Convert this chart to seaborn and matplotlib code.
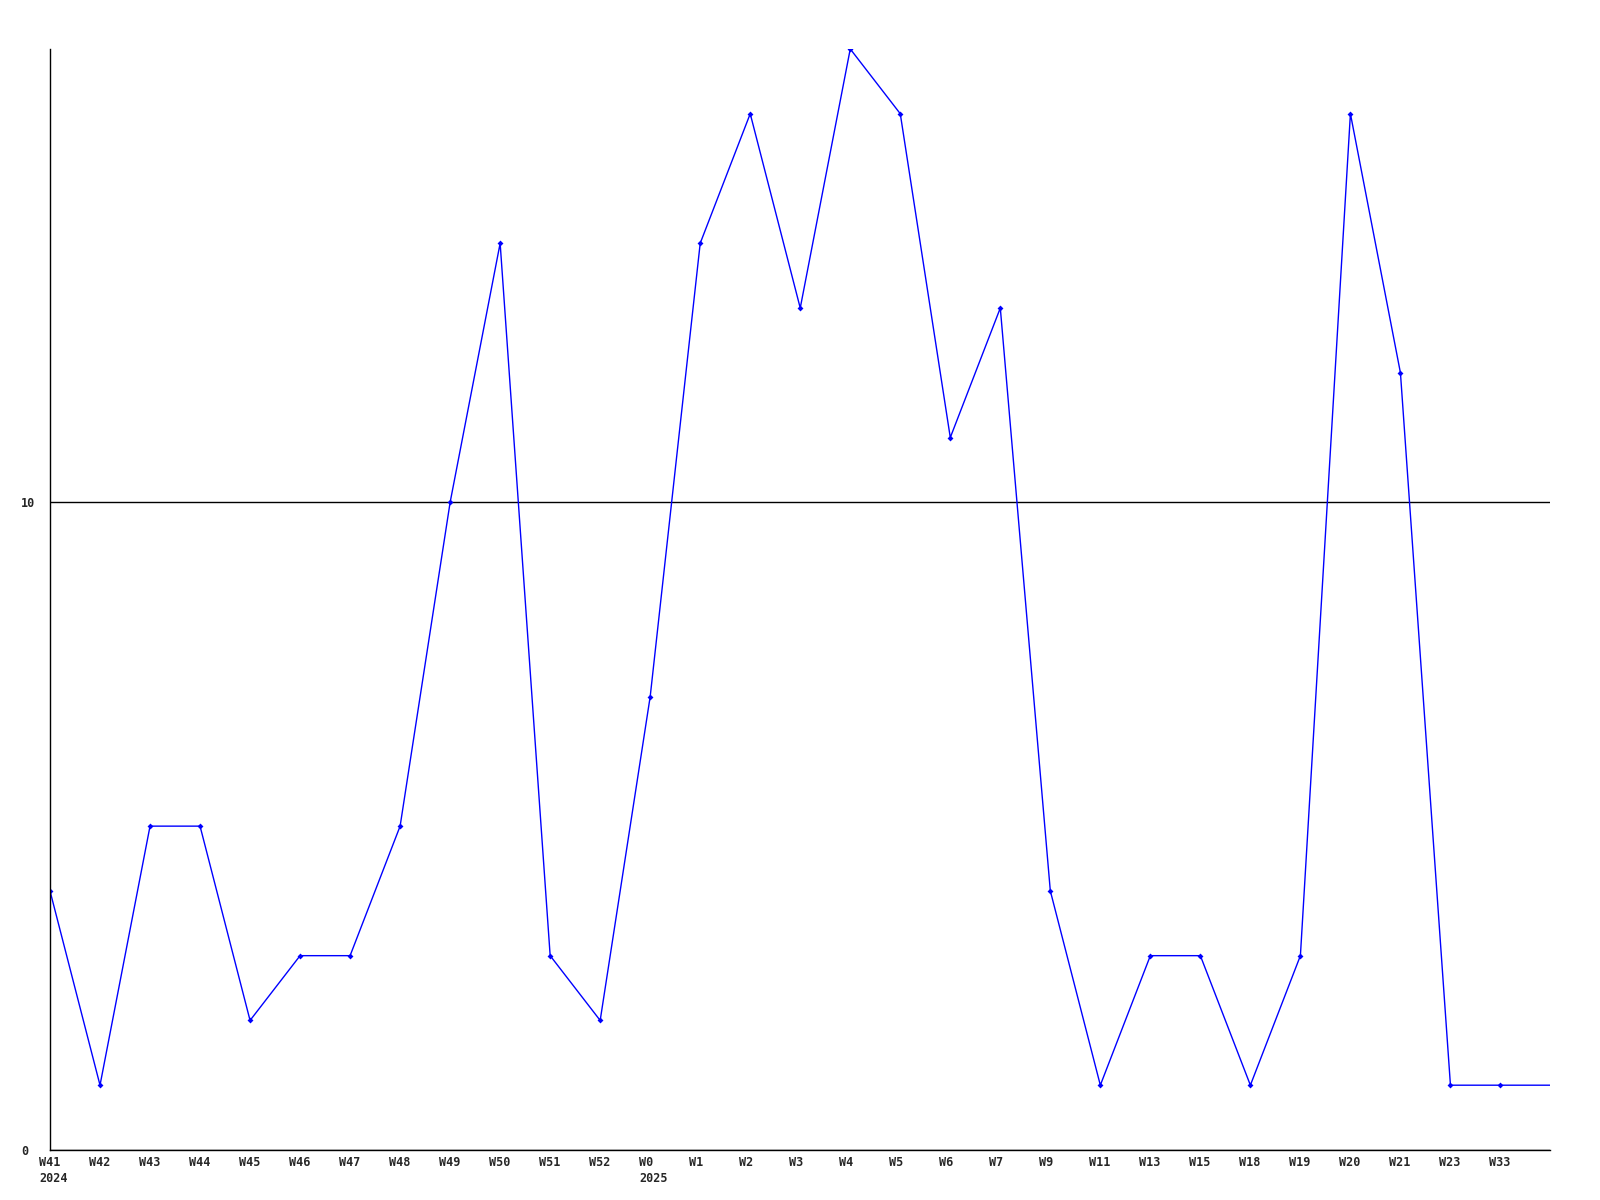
import matplotlib
matplotlib.use("Agg")
import matplotlib.pyplot as plt
import matplotlib.transforms as mtransforms
import seaborn as sns
import pandas as pd

weeks = ["W41\n2024", "W42", "W43", "W44", "W45", "W46", "W47", "W48", "W49", "W50",
         "W51", "W52", "W0\n2025", "W1", "W2", "W3", "W4", "W5", "W6", "W7",
         "W9", "W11", "W13", "W15", "W18", "W19", "W20", "W21", "W23", "W33"]
counts = [4, 1, 5, 5, 2, 3, 3, 5, 10, 14,
          3, 2, 7, 14, 16, 13, 17, 16, 11, 13,
          4, 1, 3, 3, 1, 3, 16, 12, 1, 1]
# line runs on past the last labelled week to the right edge
tail_value = 1

sns.set_style("white")
plt.rcParams["font.family"] = ["DejaVu Sans Mono"]

df = pd.DataFrame({"x": list(range(len(counts) + 1)), "y": counts + [tail_value]})

fig = plt.figure(figsize=(16, 12), dpi=100)
ax = fig.add_axes([0.03125, 0.0417, 0.9378, 0.9175])

sns.lineplot(data=df, x="x", y="y", ax=ax, color="#0000ff", linewidth=1.0,
             marker="D", markersize=3, markeredgewidth=0,
             markevery=list(range(len(counts))))

ax.set_xlim(0, len(counts))
ax.set_ylim(0, 17)
ax.set_xticks(range(len(weeks)))
ax.set_xticklabels(weeks, fontsize=8.5, fontweight="bold", ha="left")
ax.set_yticks([0, 10])
ax.set_yticklabels(["0", "10"], fontsize=8.5, fontweight="bold", ha="left")
ax.tick_params(axis="x", length=0, pad=4)
ax.tick_params(axis="y", length=0, pad=21)
ax.set_xlabel("")
ax.set_ylabel("")

shift = mtransforms.ScaledTranslation(-11 / 100, 0, fig.dpi_scale_trans)
for lbl in ax.get_xticklabels():
    lbl.set_transform(lbl.get_transform() + shift)
    lbl.set_multialignment("left")
    lbl.set_linespacing(1.35)

ax.yaxis.grid(True, color="black", linewidth=1.0)
ax.xaxis.grid(False)
for side in ["top", "right"]:
    ax.spines[side].set_visible(False)
for side in ["left", "bottom"]:
    ax.spines[side].set_color("black")
    ax.spines[side].set_linewidth(1.0)

fig.savefig("out.png", dpi=100)
